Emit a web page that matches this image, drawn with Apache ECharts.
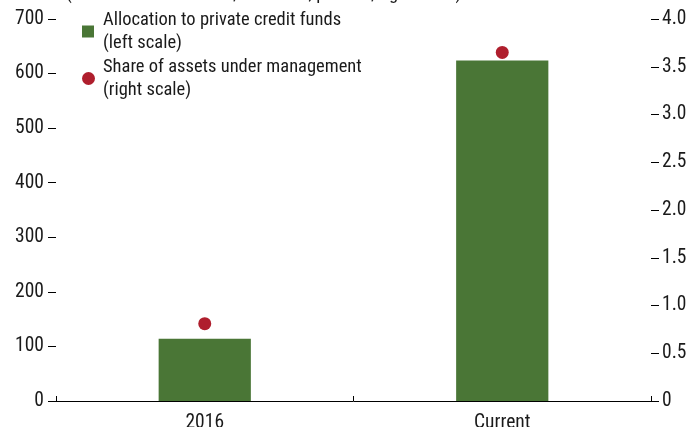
<!DOCTYPE html>
<html>
<head>
<meta charset="utf-8">
<script src="https://cdn.jsdelivr.net/npm/echarts@6/dist/echarts.min.js"></script>
<style>html,body{margin:0;padding:0;background:#fff}#c{width:692px;height:427px}</style>
</head>
<body>
<div id="c"></div>
<script>
const categories = ['2016', 'Current'];
const allocation = [114, 624];
const share = [0.81, 3.65];
const leftTicks = { min: 0, max: 700, interval: 100 };
const rightTicks = { min: 0, max: 4, interval: 0.5 };
const subtitle = '(Billions of U.S. dollars, left scale; percent, right scale)';
const nameBar = 'Allocation to private credit funds\n(left scale)';
const nameDot = 'Share of assets under management\n(right scale)';

const FONT = '"Roboto Condensed", "Liberation Sans Narrow", sans-serif';
const GREEN = '#4A7636';
const RED = '#AF1E2D';
const TXT = '#1a1a1a';

const chart = echarts.init(document.getElementById('c'), null, { renderer: 'canvas' });
const legendText = { fontFamily: FONT, fontSize: 18.5, color: TXT, lineHeight: 23, padding: [23, 0, 0, 4] };
chart.setOption({
  animation: false,
  title: {
    text: subtitle, left: 66, top: -15, padding: 0,
    textStyle: { fontFamily: FONT, fontSize: 18.5, fontWeight: 'normal', color: TXT }
  },
  legend: [
    { data: [nameBar], left: 82, top: -3, padding: 0, orient: 'vertical', itemWidth: 12, itemHeight: 12,
      icon: 'rect', textStyle: legendText, selectedMode: false },
    { data: [nameDot], left: 82, top: 44, padding: 0, orient: 'vertical', itemWidth: 13, itemHeight: 13,
      icon: 'circle', textStyle: Object.assign({}, legendText, { padding: [23, 0, 0, 3] }), selectedMode: false }
  ],
  grid: { left: 56, right: 41, top: 19, bottom: 26, containLabel: false, outerBoundsMode: 'none' },
  xAxis: {
    type: 'category', data: categories,
    axisLine: { lineStyle: { color: '#000', width: 1 } },
    axisTick: { show: true, inside: true, length: 5, lineStyle: { color: '#000' } },
    axisLabel: { fontFamily: FONT, fontSize: 19.5, color: TXT, margin: 12 }
  },
  yAxis: [
    { type: 'value', min: leftTicks.min, max: leftTicks.max, interval: leftTicks.interval,
      axisLine: { show: false }, splitLine: { show: false },
      axisTick: { show: true, length: 8, lineStyle: { color: '#000' } },
      axisLabel: { fontFamily: FONT, fontSize: 19.5, color: TXT, margin: 12 } },
    { type: 'value', min: rightTicks.min, max: rightTicks.max, interval: rightTicks.interval,
      position: 'right',
      axisLine: { show: false }, splitLine: { show: false },
      axisTick: { show: true, length: 8, lineStyle: { color: '#000' } },
      axisLabel: { fontFamily: FONT, fontSize: 19.5, color: TXT, margin: 11,
        formatter: v => v === 0 ? '0' : v.toFixed(1) } }
  ],
  series: [
    { name: nameBar, type: 'bar', data: allocation, yAxisIndex: 0, barWidth: '31%',
      itemStyle: { color: GREEN } },
    { name: nameDot, type: 'scatter', data: share, yAxisIndex: 1, symbol: 'circle', symbolSize: 13,
      itemStyle: { color: RED, opacity: 1 } }
  ]
});
</script>
</body>
</html>
